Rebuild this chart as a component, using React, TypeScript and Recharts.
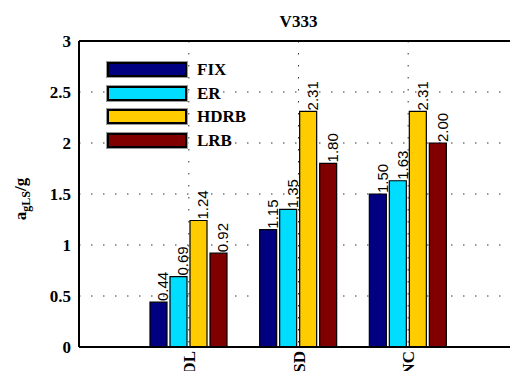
import { BarChart, Bar, XAxis, YAxis, CartesianGrid, LabelList, ReferenceLine } from 'recharts';

const categories = ['DL', 'SD', 'NC'];
const fixValues = [0.44, 1.15, 1.5];
const erValues = [0.69, 1.35, 1.63];
const hdrbValues = [1.24, 2.31, 2.31];
const lrbValues = [0.92, 1.8, 2.0];
const yTicks = [0, 0.5, 1, 1.5, 2, 2.5, 3];

const SERIES = [
  { key: 'FIX', color: '#000080' },
  { key: 'ER', color: '#00DDFF' },
  { key: 'HDRB', color: '#FFCC00' },
  { key: 'LRB', color: '#800000' },
];

const data = categories.map((name, i) => ({
  name,
  FIX: fixValues[i],
  ER: erValues[i],
  HDRB: hdrbValues[i],
  LRB: lrbValues[i],
}));

const SERIF = '"Liberation Serif", "Times New Roman", serif';
const SANS = '"Liberation Sans", Arial, sans-serif';

const ValueLabel = (props: any) => {
  const { x = 0, y = 0, width = 0, value } = props;
  const tx = Number(x) + Number(width) + 1.5;
  const ty = Number(y) - 1;
  return (
    <text
      x={tx}
      y={ty}
      transform={`rotate(-90, ${tx}, ${ty})`}
      textAnchor="start"
      fontFamily={SANS}
      fontSize={15}
      fill="#000"
    >
      {Number(value).toFixed(2)}
    </text>
  );
};

const CategoryTick = (props: any) => {
  const { x = 0, y = 0, payload } = props;
  const tx = x + 6;
  const ty = y - 4;
  return (
    <text
      x={tx}
      y={ty}
      transform={`rotate(-90, ${tx}, ${ty})`}
      textAnchor="end"
      fontFamily={SERIF}
      fontWeight="bold"
      fontSize={17}
      fill="#000"
    >
      {payload.value}
    </text>
  );
};

const YLabel = () => (
  <text
    x={26}
    y={199}
    transform="rotate(-90, 26, 199)"
    textAnchor="middle"
    fontFamily={SERIF}
    fontWeight="bold"
    fontSize={17}
    fill="#000"
  >
    a
    <tspan fontSize={12} dy={4}>gLS</tspan>
    <tspan dy={-4}>/g</tspan>
  </text>
);

const TitleLabel = (props: any) => {
  const { viewBox } = props;
  const cx = viewBox.x + viewBox.width / 2;
  return (
    <text x={cx} y={27} textAnchor="middle" fontFamily={SERIF} fontWeight="bold" fontSize={17} fill="#000">
      V333
    </text>
  );
};

// legend drawn as an overlay so it does not take space from the plot
const LegendBox = () => (
  <div style={{ position: 'absolute', left: 107, top: 62, display: 'flex', flexDirection: 'column', gap: 8 }}>
    {SERIES.map((s) => (
      <div key={s.key} style={{ display: 'flex', alignItems: 'center', height: 15.5 }}>
        <div
          style={{
            width: 76,
            height: 11,
            background: s.color,
            border: '2px solid #000',
            boxShadow: '0 0 0 1px #999',
          }}
        />
        <span
          style={{
            marginLeft: 10,
            fontFamily: SERIF,
            fontWeight: 'bold',
            fontSize: 17,
            lineHeight: '15px',
            color: '#000',
          }}
        >
          {s.key}
        </span>
      </div>
    ))}
  </div>
);

export default function App() {
  return (
    <div
      style={{
        position: 'absolute',
        left: 0,
        top: 0,
        width: 510,
        height: 371,
        overflow: 'hidden',
        background: '#fff',
      }}
    >
      <BarChart
        width={540}
        height={371}
        data={data}
        margin={{ top: 41, right: 22, bottom: 0, left: 0 }}
        barSize={17}
        barGap={3}
      >
        <CartesianGrid stroke="#333" strokeDasharray="1.5 10.5" />
        <XAxis
          dataKey="name"
          padding={{ left: 55, right: 55 }}
          height={24}
          axisLine={{ stroke: '#000', strokeWidth: 2 }}
          tickLine={false}
          tick={<CategoryTick />}
          interval={0}
        />
        <YAxis
          domain={[0, 3]}
          ticks={yTicks}
          width={79}
          axisLine={{ stroke: '#000', strokeWidth: 2 }}
          tickLine={false}
          tick={{ fill: '#000', fontFamily: SERIF, fontWeight: 'bold', fontSize: 17 }}
          label={<YLabel />}
        />
        <ReferenceLine y={3} stroke="#000" strokeWidth={2} label={<TitleLabel />} />
        {SERIES.map((s) => (
          <Bar key={s.key} dataKey={s.key} fill={s.color} stroke="#000" strokeWidth={1.2} isAnimationActive={false}>
            <LabelList dataKey={s.key} content={<ValueLabel />} />
          </Bar>
        ))}
      </BarChart>
      <LegendBox />
    </div>
  );
}
